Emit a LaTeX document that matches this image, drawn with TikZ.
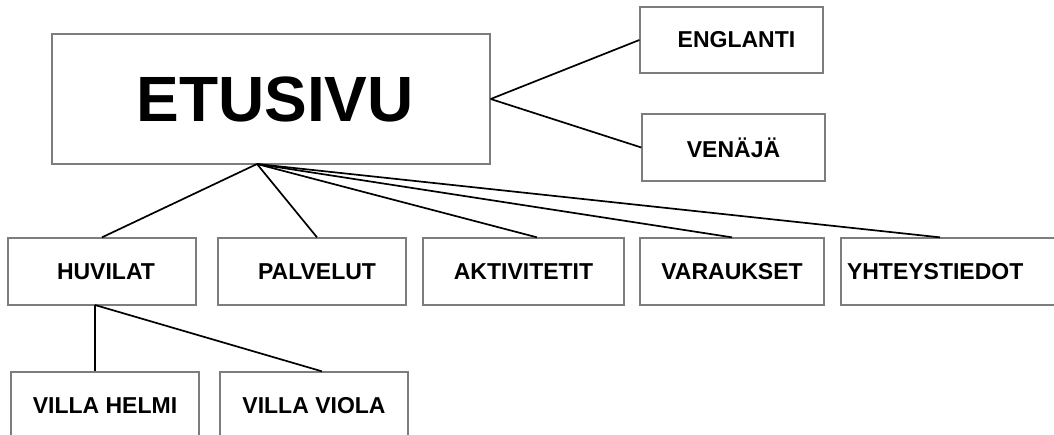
\documentclass[tikz,border=0pt]{standalone}
\usepackage{fontspec}
\setmainfont{Liberation Sans}
\usepackage[]{color}
\definecolor{boxgray}{RGB}{125,125,125}

\begin{document}
\begin{tikzpicture}[x=1pt, y=-1pt]
\tikzset{page/.style={draw=boxgray, line width=1.3pt, fill=white, inner sep=0pt,
    minimum height=67pt, font=\fontsize{23}{27}\selectfont\bfseries},
  link/.style={black, line width=1.7pt}}
    \useasboundingbox (0, 0) rectangle (1054, 434);

    \node[page, minimum width=438pt, minimum height=130pt,
      font=\fontsize{64}{70}\selectfont\bfseries] (etusivu) at (271, 99) {\hspace{8pt}ETUSIVU};
    \node[page, minimum width=183pt, minimum height=66pt] (englanti) at (731.5, 40) {\hspace{10pt}ENGLANTI};
    \node[page, minimum width=183pt] (venaja) at (733.5, 147.5) {VENÄJÄ};

    \node[page, minimum width=188pt] (huvilat) at (102, 271.5) {\hspace{8pt}HUVILAT};
    \node[page, minimum width=188pt] (palvelut) at (312, 271.5) {\hspace{10pt}PALVELUT};
    \node[page, minimum width=201pt] (aktiviteetit) at (523.5, 271.5) {AKTIVITETIT};
    \node[page, minimum width=184pt] (varaukset) at (732, 271.5) {VARAUKSET};
    \node[page, minimum width=224pt, text width=212pt, align=left, inner xsep=6pt] (yhteystiedot) at (953, 271.5) {YHTEYSTIEDOT};

    \node[page, minimum width=188pt] (helmi) at (105, 405.5) {VILLA HELMI};
    \node[page, minimum width=188pt] (viola) at (314, 405.5) {VILLA VIOLA};

    \coordinate (hub) at (257, 164);
    \coordinate (split) at (95, 305);

    \draw[link] (etusivu.east) -- (englanti.west);
    \draw[link] (etusivu.east) -- (venaja.west);

    \draw[link] (hub) -- (huvilat.north);
    \draw[link] (hub) -- ([xshift=5pt]palvelut.north);
    \draw[link] (hub) -- ([xshift=13.5pt]aktiviteetit.north);
    \draw[link] (hub) -- (varaukset.north);
    \draw[link] (hub) -- ([xshift=-13pt]yhteystiedot.north);

    \draw[link] (split) -- (split |- helmi.north);
    \draw[link] (split) -- ([xshift=8pt]viola.north);
\end{tikzpicture}
\end{document}
